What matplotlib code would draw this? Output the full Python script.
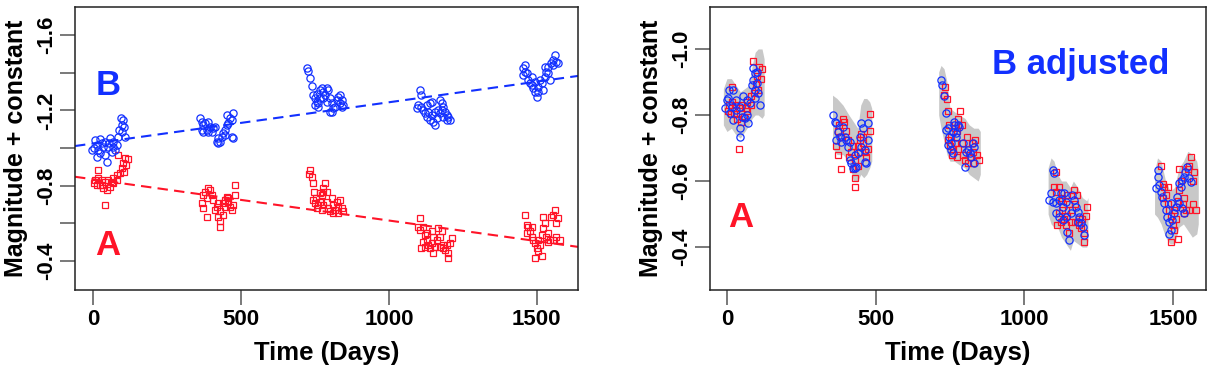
import matplotlib
matplotlib.use("Agg")
import matplotlib.pyplot as plt

plt.rcParams['font.family'] = ['Liberation Sans', 'DejaVu Sans']
plt.rcParams['font.weight'] = 'bold'
plt.rcParams['axes.unicode_minus'] = False

BLUE = '#1230ff'
RED = '#ff1428'

# image A (red squares)
a_t = [86, 108, 119, 100, 113, 97, 105, 91, 80, 68, 63, 52, 40, 29, 18, 7, 2, 13, 24, 35, 46, 57, 68, 80, 18, 40, 29,
       389, 395, 378, 373, 401, 384, 367, 406, 418, 423, 412, 429, 373, 384, 423, 429, 429, 440, 440, 446, 452, 457, 463, 469, 474, 480, 480, 457, 446,
       733, 731, 739, 742, 747, 753, 745, 750, 761, 756, 778, 784, 790, 773, 767, 778, 790, 795, 806, 812, 801, 818, 823, 835, 829, 840, 846, 829, 812, 773, 778, 767,
       1105, 1099, 1105, 1116, 1122, 1127, 1116, 1122, 1110, 1127, 1133, 1139, 1144, 1150, 1156, 1161, 1167, 1172, 1178, 1172, 1184, 1189, 1195, 1201, 1206, 1212, 1201, 1184, 1150, 1144,
       1459, 1465, 1471, 1482, 1476, 1465, 1482, 1487, 1493, 1499, 1504, 1493, 1516, 1510, 1516, 1521, 1527, 1521, 1532, 1538, 1544, 1549, 1555, 1561, 1566, 1572, 1566, 1578, 1555, 1538, 1504]
a_mag = [-0.963, -0.946, -0.940, -0.919, -0.910, -0.893, -0.875, -0.866, -0.857, -0.840, -0.822, -0.831, -0.822, -0.831, -0.840, -0.831, -0.813, -0.804, -0.804, -0.787, -0.778, -0.795, -0.813, -0.831, -0.884, -0.698, -0.804,
         -0.787, -0.778, -0.769, -0.751, -0.751, -0.734, -0.707, -0.725, -0.689, -0.707, -0.672, -0.663, -0.680, -0.636, -0.636, -0.610, -0.583, -0.645, -0.707, -0.725, -0.742, -0.716, -0.689, -0.672, -0.698, -0.751, -0.804, -0.734, -0.689,
         -0.884, -0.861, -0.848, -0.813, -0.769, -0.734, -0.725, -0.707, -0.698, -0.680, -0.787, -0.813, -0.769, -0.751, -0.716, -0.698, -0.716, -0.680, -0.734, -0.698, -0.663, -0.672, -0.716, -0.725, -0.689, -0.680, -0.663, -0.654, -0.654, -0.672, -0.769, -0.760,
         -0.627, -0.583, -0.566, -0.583, -0.539, -0.548, -0.503, -0.477, -0.468, -0.512, -0.486, -0.468, -0.495, -0.442, -0.477, -0.512, -0.574, -0.530, -0.557, -0.477, -0.486, -0.459, -0.486, -0.442, -0.495, -0.521, -0.415, -0.468, -0.530, -0.557,
         -0.645, -0.592, -0.583, -0.583, -0.557, -0.548, -0.530, -0.512, -0.495, -0.468, -0.451, -0.415, -0.424, -0.486, -0.539, -0.574, -0.601, -0.636, -0.530, -0.548, -0.512, -0.636, -0.645, -0.672, -0.601, -0.627, -0.530, -0.512, -0.512, -0.503, -0.512]

# image B (blue circles)
b_t = [7, -4, 2, 13, 18, 24, 24, 35, 40, 40, 46, 52, 57, 63, 68, 68, 74, 80, 86, 89, 93, 97, 97, 100, 103, 108, 29, 13, 55,
       361, 367, 373, 378, 389, 395, 406, 412, 384, 373, 367, 389, 401, 423, 418, 429, 435, 440, 446, 452, 457, 463, 469, 474, 452, 469, 474, 446, 423,
       724, 726, 733, 739, 745, 750, 756, 761, 773, 767, 778, 784, 790, 795, 778, 767, 756, 750, 761, 801, 806, 812, 806, 818, 823, 829, 835, 840, 835, 846, 840, 801, 790,
       1105, 1110, 1099, 1094, 1110, 1116, 1122, 1127, 1139, 1144, 1133, 1144, 1139, 1150, 1156, 1161, 1127, 1167, 1172, 1178, 1184, 1172, 1189, 1195, 1201, 1206, 1195, 1184, 1178, 1156,
       1459, 1454, 1459, 1465, 1454, 1471, 1476, 1482, 1487, 1493, 1499, 1504, 1510, 1516, 1521, 1527, 1532, 1538, 1527, 1538, 1544, 1549, 1555, 1561, 1566, 1572, 1555, 1504, 1493, 1482]
b_mag = [-1.043, -0.990, -0.999, -1.016, -0.990, -1.047, -0.972, -1.007, -1.034, -0.963, -0.928, -1.007, -1.052, -0.981, -1.034, -1.007, -0.990, -1.016, -1.061, -1.096, -1.158, -1.123, -1.087, -1.149, -1.114, -1.061, -1.025, -0.955, -1.029,
         -1.158, -1.140, -1.123, -1.131, -1.140, -1.114, -1.105, -1.114, -1.096, -1.087, -1.096, -1.087, -1.087, -1.052, -1.034, -1.034, -1.061, -1.078, -1.096, -1.123, -1.131, -1.158, -1.149, -1.185, -1.176, -1.061, -1.052, -1.070, -1.025,
         -1.427, -1.409, -1.374, -1.331, -1.282, -1.264, -1.246, -1.220, -1.317, -1.308, -1.299, -1.282, -1.317, -1.308, -1.264, -1.264, -1.285, -1.229, -1.238, -1.264, -1.238, -1.211, -1.193, -1.220, -1.255, -1.273, -1.282, -1.255, -1.238, -1.229, -1.220, -1.193, -1.246,
         -1.308, -1.282, -1.229, -1.211, -1.220, -1.202, -1.185, -1.229, -1.238, -1.246, -1.193, -1.176, -1.149, -1.140, -1.123, -1.158, -1.167, -1.202, -1.255, -1.238, -1.220, -1.185, -1.193, -1.176, -1.167, -1.149, -1.149, -1.167, -1.202, -1.193,
         -1.441, -1.423, -1.405, -1.397, -1.388, -1.361, -1.344, -1.335, -1.317, -1.299, -1.273, -1.326, -1.361, -1.344, -1.308, -1.379, -1.405, -1.432, -1.432, -1.397, -1.361, -1.450, -1.467, -1.494, -1.458, -1.450, -1.441, -1.299, -1.352, -1.379]

# B after shifting onto A (right panel)
badj_t = [-7, -1, 8, 21, 4, 16, 10, 21, 32, 32, 44, 55, 49, 60, 66, 72, 44, 44, 77, 83, 88, 94, 100, 88, 94, 100, 105, 94, 111, 66,
          357, 362, 368, 373, 368, 379, 385, 390, 396, 402, 407, 413, 413, 418, 424, 430, 435, 441, 446, 452, 452, 457, 463, 469, 474, 474, 463, 430,
          720, 723, 731, 737, 737, 742, 748, 742, 754, 759, 765, 771, 765, 776, 782, 760, 771, 754, 793, 804, 816, 827, 832, 821, 799, 832, 810,
          1095, 1101, 1084, 1089, 1095, 1106, 1117, 1123, 1134, 1140, 1129, 1106, 1117, 1129, 1145, 1151, 1157, 1162, 1168, 1173, 1179, 1184, 1190, 1196, 1201, 1179, 1140,
          1448, 1451, 1453, 1442, 1459, 1464, 1470, 1476, 1481, 1487, 1492, 1487, 1498, 1503, 1509, 1515, 1520, 1526, 1531, 1537, 1542, 1548, 1554, 1559, 1531, 1537, 1492, 1520]
badj_mag = [-0.820, -0.845, -0.876, -0.876, -0.851, -0.825, -0.805, -0.785, -0.845, -0.815, -0.825, -0.856, -0.795, -0.790, -0.800, -0.775, -0.760, -0.734, -0.835, -0.891, -0.941, -0.926, -0.931, -0.906, -0.876, -0.896, -0.866, -0.851, -0.830, -0.845,
            -0.800, -0.780, -0.775, -0.749, -0.724, -0.734, -0.719, -0.765, -0.734, -0.724, -0.704, -0.719, -0.664, -0.654, -0.638, -0.679, -0.643, -0.684, -0.734, -0.704, -0.775, -0.760, -0.694, -0.654, -0.775, -0.724, -0.659, -0.638,
            -0.906, -0.891, -0.856, -0.805, -0.755, -0.760, -0.734, -0.709, -0.694, -0.684, -0.770, -0.745, -0.780, -0.770, -0.765, -0.749, -0.734, -0.714, -0.714, -0.689, -0.684, -0.714, -0.704, -0.674, -0.643, -0.654, -0.694,
            -0.633, -0.623, -0.542, -0.563, -0.537, -0.532, -0.542, -0.563, -0.563, -0.537, -0.522, -0.502, -0.492, -0.482, -0.446, -0.421, -0.502, -0.558, -0.542, -0.522, -0.507, -0.492, -0.472, -0.461, -0.436, -0.477, -0.492,
            -0.633, -0.613, -0.588, -0.578, -0.568, -0.553, -0.532, -0.512, -0.492, -0.477, -0.452, -0.441, -0.482, -0.502, -0.522, -0.553, -0.593, -0.583, -0.603, -0.613, -0.628, -0.643, -0.608, -0.598, -0.517, -0.502, -0.532, -0.532]

# linear trends (intercept, slope per day)
trend_a = (-0.834, 0.000219)
trend_b = (-1.024, -0.000219)

# grey model envelope per season
band_t = [[-12, 0, 15, 30, 45, 60, 75, 85, 95, 105, 118, 125],
          [355, 370, 390, 410, 425, 440, 450, 460, 470, 480, 487],
          [712, 720, 730, 740, 750, 765, 780, 800, 815, 830, 845, 852],
          [1080, 1090, 1100, 1112, 1125, 1140, 1155, 1165, 1180, 1195, 1210, 1214],
          [1438, 1448, 1460, 1475, 1490, 1505, 1520, 1535, 1550, 1565, 1580, 1585]]
band_top = [[-0.88, -0.91, -0.91, -0.89, -0.87, -0.88, -0.89, -0.95, -0.99, -1.00, -1.00, -0.97],
            [-0.86, -0.85, -0.83, -0.80, -0.78, -0.76, -0.83, -0.85, -0.85, -0.84, -0.82],
            [-0.93, -0.95, -0.94, -0.90, -0.82, -0.81, -0.80, -0.79, -0.77, -0.76, -0.76, -0.75],
            [-0.64, -0.67, -0.66, -0.62, -0.60, -0.60, -0.58, -0.60, -0.58, -0.55, -0.54, -0.55],
            [-0.63, -0.67, -0.66, -0.60, -0.57, -0.58, -0.64, -0.66, -0.69, -0.68, -0.66, -0.63]]
band_bot = [[-0.77, -0.75, -0.76, -0.74, -0.73, -0.75, -0.77, -0.79, -0.80, -0.80, -0.79, -0.80],
            [-0.70, -0.68, -0.68, -0.66, -0.60, -0.60, -0.62, -0.61, -0.62, -0.64, -0.66],
            [-0.80, -0.76, -0.72, -0.68, -0.66, -0.66, -0.65, -0.64, -0.62, -0.61, -0.60, -0.62],
            [-0.50, -0.47, -0.46, -0.46, -0.43, -0.41, -0.39, -0.42, -0.41, -0.40, -0.40, -0.42],
            [-0.50, -0.49, -0.47, -0.43, -0.41, -0.41, -0.46, -0.47, -0.45, -0.43, -0.44, -0.47]]

x_ticks = [0, 500, 1000, 1500]
left_yticks = [-1.6, -1.4, -1.2, -1.0, -0.8, -0.6, -0.4]
left_ylabels = ['-1.6', '', '-1.2', '', '-0.8', '', '-0.4']
right_yticks = [-1.0, -0.8, -0.6, -0.4]
right_ylabels = ['-1.0', '-0.8', '-0.6', '-0.4']

fig = plt.figure(figsize=(12.18, 3.70), dpi=100)
ax1 = fig.add_axes([75 / 1218, 80 / 370, 503 / 1218, 283 / 370])
ax2 = fig.add_axes([710 / 1218, 80 / 370, 496 / 1218, 283 / 370])

mk = dict(linestyle='none', markerfacecolor='none', markeredgewidth=0.9)

# left panel: raw light curves with trends
ax1.plot(a_t, a_mag, marker='s', markersize=4.8, markeredgecolor=RED, **mk)
ax1.plot(b_t, b_mag, marker='o', markersize=5.2, markeredgecolor=BLUE, **mk)
ax1.axline((0, trend_a[0]), slope=trend_a[1], color=RED, lw=1.5, dashes=(5, 3))
ax1.axline((0, trend_b[0]), slope=trend_b[1], color=BLUE, lw=1.5, dashes=(5, 3))
ax1.text(51, -1.282, 'B', color=BLUE, fontsize=25, fontweight='bold', ha='center', va='baseline')
ax1.text(51, -0.433, 'A', color=RED, fontsize=25, fontweight='bold', ha='center', va='baseline')
ax1.set_xlim(-61, 1639)
ax1.set_ylim(-0.246, -1.749)
ax1.set_yticks(left_yticks)
ax1.set_yticklabels(left_ylabels)

# right panel: B shifted onto A with model envelope
for bt, top, bot in zip(band_t, band_top, band_bot):
    ax2.fill_between(bt, top, bot, color='#c8c8c8', lw=0, zorder=1)
ax2.plot(a_t, a_mag, marker='s', markersize=4.8, markeredgecolor=RED, zorder=2, **mk)
ax2.plot(badj_t, badj_mag, marker='o', markersize=5.2, markeredgecolor=BLUE, zorder=3, **mk)
ax2.text(47, -0.461, 'A', color=RED, fontsize=25, fontweight='bold', ha='center', va='baseline')
ax2.text(1191, -0.924, 'B adjusted', color=BLUE, fontsize=25, fontweight='bold', ha='center', va='baseline')
ax2.set_xlim(-57, 1611)
ax2.set_ylim(-0.27, -1.127)
ax2.set_yticks(right_yticks)
ax2.set_yticklabels(right_ylabels)

for ax in (ax1, ax2):
    ax.set_xticks(x_ticks)
    ax.set_xticklabels([str(v) for v in x_ticks])
    ax.tick_params(length=11, width=1.1, color='#555555', labelsize=16, pad=3)
    ax.tick_params(axis='y', labelrotation=90, pad=2)
    for lab in ax.get_yticklabels():
        lab.set_va('center')
    for sp in ax.spines.values():
        sp.set_linewidth(1.1)
        sp.set_color('#222222')
    ax.set_xlabel('Time (Days)', fontsize=18.5, fontweight='bold')
    ax.set_ylabel('Magnitude + constant', fontsize=18, fontweight='bold')
    ax.xaxis.set_label_coords(0.5, -0.18)

ax1.yaxis.set_label_coords(-0.094, 0.5)
ax2.yaxis.set_label_coords(-0.095, 0.5)

fig.savefig('out.png', dpi=100)
